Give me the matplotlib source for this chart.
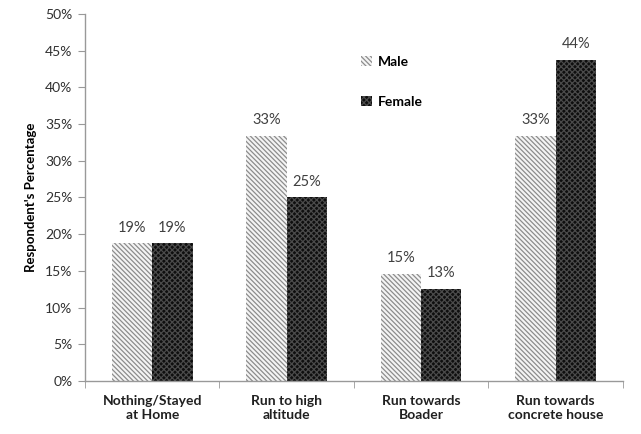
import matplotlib
matplotlib.use("Agg")
import matplotlib.pyplot as plt
import numpy as np

categories = ["Nothing/Stayed\nat Home", "Run to high\naltitude", "Run towards\nBoader", "Run towards\nconcrete house"]
male = [18.75, 33.33, 14.58, 33.33]
female = [18.75, 25.0, 12.5, 43.75]
male_labels = ["19%", "33%", "15%", "33%"]
female_labels = ["19%", "25%", "13%", "44%"]
yticks = [0, 5, 10, 15, 20, 25, 30, 35, 40, 45, 50]

plt.rcParams['font.family'] = ['Lato', 'DejaVu Sans']
plt.rcParams['hatch.linewidth'] = 0.9

fig = plt.figure(figsize=(6.41, 4.34), dpi=100)
ax = fig.add_axes([0.1326, 0.122, 0.839, 0.846])

x = np.arange(len(categories))
w = 0.3
bm = ax.bar(x - w/2, male, w, facecolor='#f4f4f4', edgecolor='#8c8c8c', hatch='\\' * 7, linewidth=0, label='Male')
bf = ax.bar(x + w/2, female, w, facecolor='#0e0e0e', edgecolor='#4a4a4a', hatch='x' * 6, linewidth=0, label='Female')

for i in range(len(categories)):
    ax.text(x[i] - w/2, male[i] + 1.2, male_labels[i], ha='center', va='bottom', fontsize=10.5, color='#404040')
    ax.text(x[i] + w/2, female[i] + 1.2, female_labels[i], ha='center', va='bottom', fontsize=10.5, color='#404040')

ax.set_xlim(-0.5, len(categories) - 0.5)
ax.set_ylim(0, 50)
ax.set_yticks(yticks)
ax.set_yticklabels([f"{t}%" for t in yticks], fontsize=10, color='#303030')
ax.set_xticks(x)
ax.set_xticklabels(categories, fontsize=10, fontweight='bold', color='#202020', multialignment='center')
ax.set_xticks(np.arange(len(categories) + 1) - 0.5, minor=True)
ax.tick_params(axis='x', which='major', length=0, pad=10)
ax.tick_params(axis='x', which='minor', length=5, color='#999999')
ax.tick_params(axis='y', length=5, color='#999999', pad=4)
ax.set_ylabel("Respondent's Percentage", fontsize=9.5, fontweight='bold', labelpad=6)

for s in ['top', 'right']:
    ax.spines[s].set_visible(False)
for s in ['left', 'bottom']:
    ax.spines[s].set_color('#999999')
    ax.spines[s].set_linewidth(1.0)

leg = ax.legend(loc='center left', bbox_to_anchor=(0.49, 0.815), frameon=False,
                handlelength=0.8, handleheight=0.8, handletextpad=0.4,
                labelspacing=2.0, prop={'weight': 'bold', 'size': 10})

fig.savefig("out.png", dpi=100)
